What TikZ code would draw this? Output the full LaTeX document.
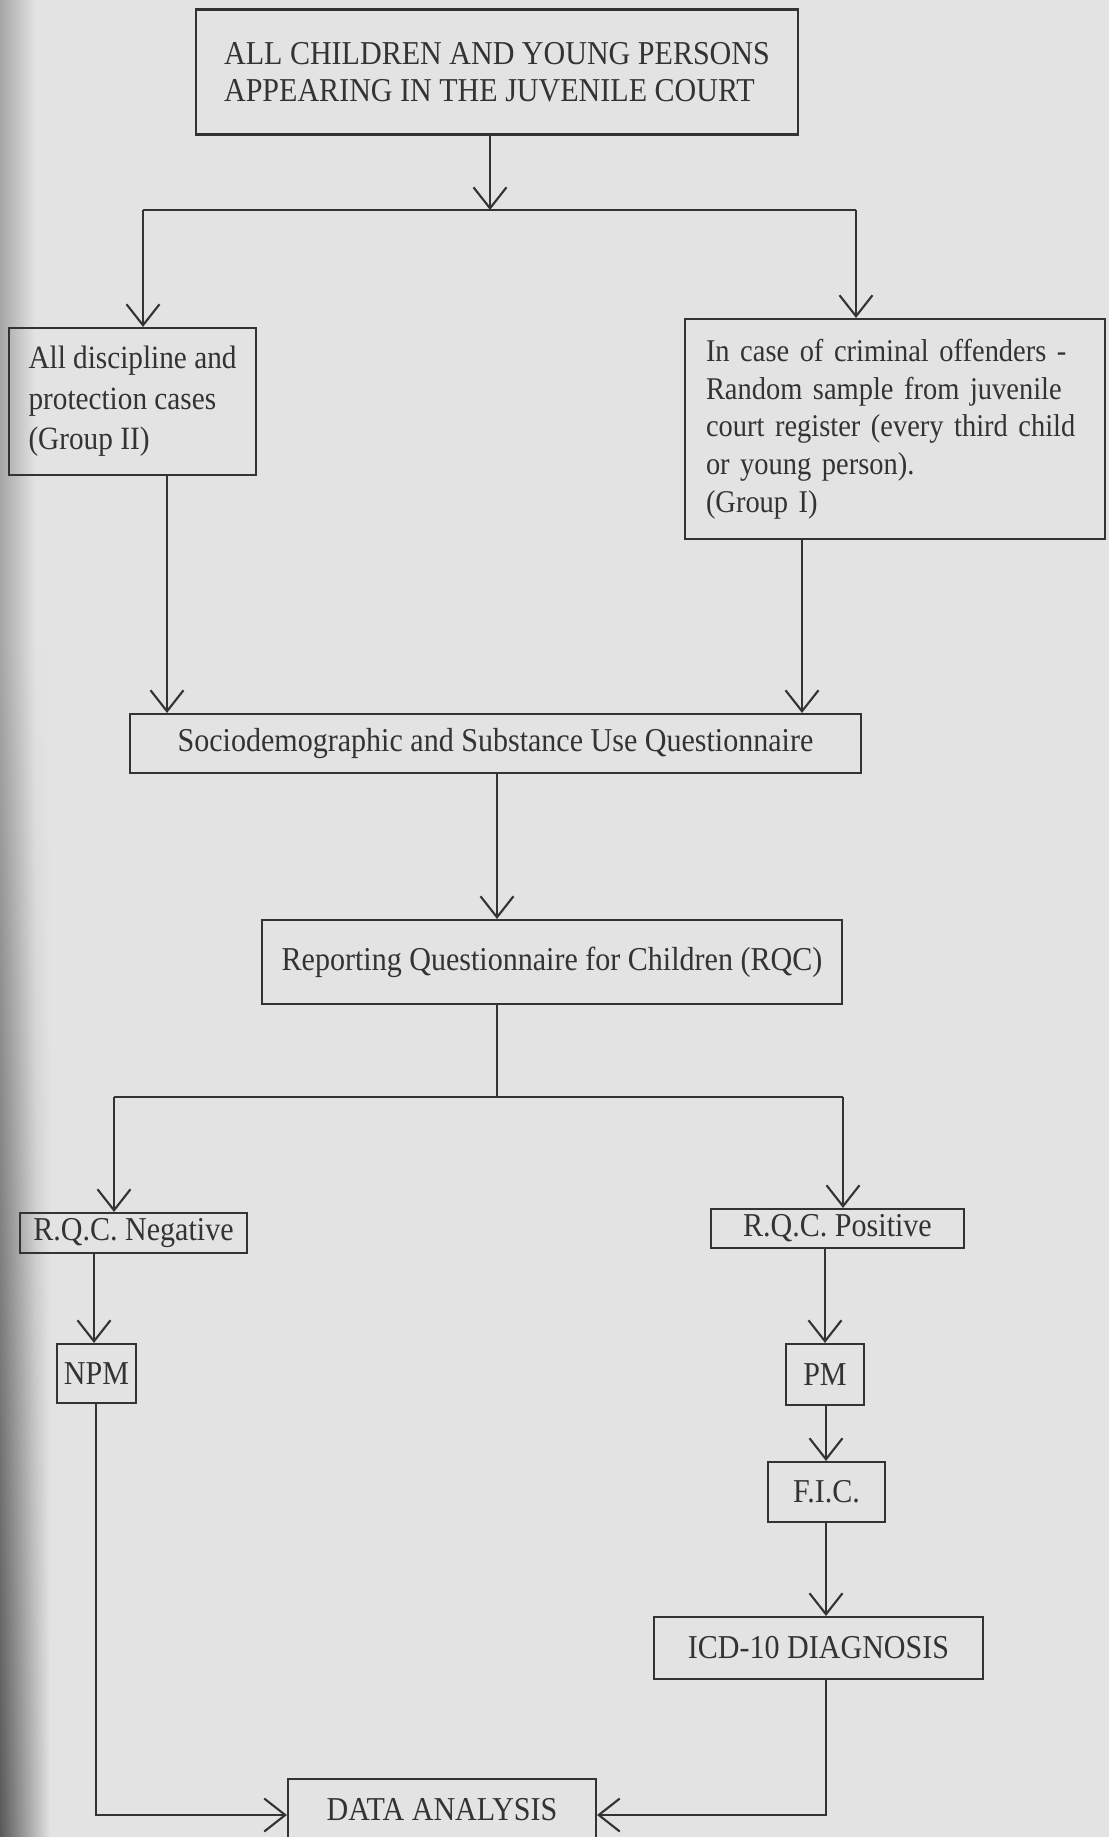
\documentclass[tikz,border=0pt]{standalone}
\usepackage{fontspec}
\setmainfont{Liberation Serif}[FakeStretch=0.9]
\usetikzlibrary{arrows.meta,fadings}
\definecolor{bg}{HTML}{E3E3E3}
\definecolor{ink}{HTML}{333333}
\begin{document}
\begin{tikzpicture}[x=0.02cm,y=-0.02cm,
  box/.style={draw=ink,line width=1.2pt,inner sep=0pt,text=ink,
    font=\fontsize{19}{21}\selectfont},
  sz/.style 2 args={minimum width=#1*0.02cm,minimum height=#2*0.02cm},
  ln/.style={draw=ink,line width=1.2pt},
  arr/.style={ln,-{Straight Barb[length=4.2mm,width=6.6mm]}}]
\fill[bg] (0,0) rectangle (1109,1837);
\shade[left color=black!35,right color=bg] (0,0) rectangle (35,1837);
\shade[left color=black!65,right color=bg,path fading=north] (0,650) rectangle (50,1837);
\useasboundingbox (0,0) rectangle (1109,1837);

\node[box,sz={602}{125},align=left] (top) at (497,72)
  {ALL CHILDREN AND YOUNG PERSONS\\APPEARING IN THE JUVENILE COURT};
\node[box,sz={247}{147},align=left,font=\fontsize{18.5}{23}\selectfont] (left) at (132.5,401.5)
  {All discipline and\\protection cases\\(Group II)};
\node[box,sz={420}{220},align=left,text width=378*0.02cm,font=\fontsize{18}{21.5}\selectfont] (right) at (895,429)
  {In case of criminal offenders -\\Random sample from juvenile\\court register (every third child\\or young person).\\(Group I)};
\node[box,sz={731}{59}] (socio) at (495.5,743.5)
  {Sociodemographic and Substance Use Questionnaire};
\node[box,sz={580}{84}] (rqc) at (552,962)
  {Reporting Questionnaire for Children (RQC)};
\node[box,sz={227}{40}] (neg) at (133.5,1233) {R.Q.C. Negative};
\node[box,sz={253}{39}] (pos) at (837.5,1228.5) {R.Q.C. Positive};
\node[box,sz={79}{59}] (npm) at (96.5,1373.5) {NPM};
\node[box,sz={78}{61}] (pm) at (825,1374.5) {PM};
\node[box,sz={117}{60}] (fic) at (826.5,1492) {F.I.C.};
\node[box,sz={329}{62}] (icd) at (818.5,1648) {ICD-10 DIAGNOSIS};
\node[box,sz={308}{62}] (data) at (442,1810) {DATA ANALYSIS};

% first split
\coordinate (j1) at (490,210);
\coordinate (jl) at (143,210);
\coordinate (jr) at (856,210);
\draw[arr] (top.south -| j1) -- (j1);
\draw[ln] (jl) -- (jr);
\draw[arr] (jl) -- (left.north -| jl);
\draw[arr] (jr) -- (right.north -| jr);

% into socio
\coordinate (l2) at (167,0);
\coordinate (r2) at (802,0);
\draw[arr] (left.south -| l2) -- (socio.north -| l2);
\draw[arr] (right.south -| r2) -- (socio.north -| r2);

% socio to rqc
\coordinate (c3) at (497,0);
\draw[arr] (socio.south -| c3) -- (rqc.north -| c3);

% second split
\coordinate (j2) at (497,1097);
\coordinate (j2l) at (114,1097);
\coordinate (j2r) at (843,1097);
\draw[ln] (rqc.south -| j2) -- (j2);
\draw[ln] (j2l) -- (j2r);
\draw[arr] (j2l) -- (neg.north -| j2l);
\draw[arr] (j2r) -- (pos.north -| j2r);

% chains
\coordinate (c4) at (94,0);
\draw[arr] (neg.south -| c4) -- (npm.north -| c4);
\coordinate (c5) at (825,0);
\draw[arr] (pos.south -| c5) -- (pm.north -| c5);
\coordinate (c5b) at (826,0);
\draw[arr] (pm.south -| c5b) -- (fic.north -| c5b);
\draw[arr] (fic.south -| c5b) -- (icd.north -| c5b);

% into data analysis
\coordinate (c6) at (96,1815);
\coordinate (c7) at (826,1815);
\draw[arr] (npm.south -| c6) -- (c6) -- (c6 -| data.west);
\draw[arr] (icd.south -| c7) -- (c7) -- (c7 -| data.east);
\end{tikzpicture}
\end{document}
